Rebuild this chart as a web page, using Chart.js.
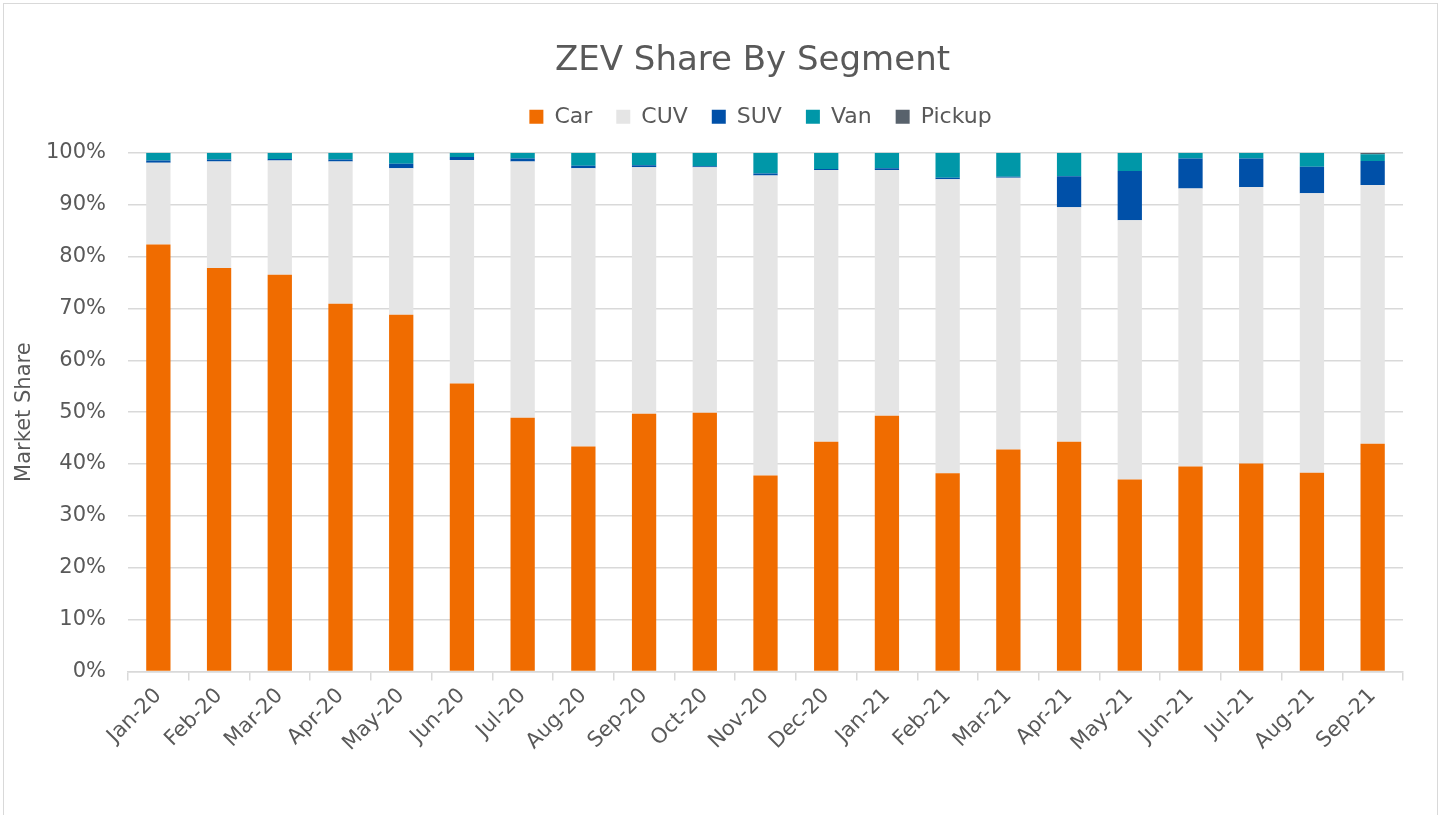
<!DOCTYPE html>
<html lang="en">
<head>
<meta charset="UTF-8">
<title>ZEV Share By Segment</title>
<script src="https://cdn.jsdelivr.net/npm/chart.js"></script>
<style>
    html, body { margin: 0; padding: 0; background: #fff; }
    #marco { position: absolute; left: 3px; top: 3px; width: 1433px; height: 830px; border: 1px solid #d9d9d9; }
    #contenedor { position: absolute; left: 0; top: 0; width: 1445px; height: 815px; }
</style>
</head>
<body>
<div id="marco"></div>
<div id="contenedor"><canvas id="grafica"></canvas></div>
<script>
    const meses = ["Jan-20", "Feb-20", "Mar-20", "Apr-20", "May-20", "Jun-20", "Jul-20", "Aug-20", "Sep-20", "Oct-20",
        "Nov-20", "Dec-20", "Jan-21", "Feb-21", "Mar-21", "Apr-21", "May-21", "Jun-21", "Jul-21", "Aug-21", "Sep-21"];

    // porcentajes
    const car = [82.3, 77.8, 76.5, 70.9, 68.8, 55.5, 48.9, 43.4, 49.7, 49.9, 37.8, 44.3, 49.3, 38.2, 42.8, 44.3, 37.0, 39.5, 40.1, 38.3, 43.9];
    const cuv = [15.8, 20.5, 22.0, 27.4, 28.2, 43.1, 49.4, 53.6, 47.5, 47.3, 57.8, 52.4, 47.4, 56.7, 52.4, 45.2, 50.0, 53.6, 53.3, 53.9, 49.9];
    const suv = [0.4, 0.4, 0.3, 0.4, 0.9, 0.6, 0.6, 0.5, 0.4, 0.2, 0.4, 0.2, 0.3, 0.3, 0.2, 6.0, 9.5, 5.8, 5.5, 5.1, 4.6];
    const van = [1.5, 1.3, 1.2, 1.3, 2.1, 0.8, 1.1, 2.5, 2.4, 2.6, 4.0, 3.1, 3.0, 4.8, 4.6, 4.5, 3.5, 1.1, 1.1, 2.7, 1.3];
    const pickup = [0, 0, 0, 0, 0, 0, 0, 0, 0, 0, 0, 0, 0, 0, 0, 0, 0, 0, 0, 0, 0.3];

    const gris = "#595959";
    const fuente = "'DejaVu Sans', sans-serif";

    const serie = (label, data, color) => ({
        label: label,
        data: data,
        backgroundColor: color,
        borderWidth: 0,
        categoryPercentage: 1,
        barPercentage: 0.4
    });

    // más espacio debajo de la leyenda
    const margenLeyenda = {
        id: 'margenLeyenda',
        beforeInit(chart) {
            const fit = chart.legend.fit;
            chart.legend.fit = function () {
                fit.bind(chart.legend)();
                this.height += 15;
            };
        },
        // título y leyenda centrados un poco más a la derecha, como en Excel
        afterLayout(chart) {
            const t = chart.titleBlock;
            t.left += 47; t.right += 47;
            const l = chart.legend;
            l.left += 55; l.right += 55;
        }
    };

    new Chart(document.querySelector("#grafica"), {
        type: 'bar',
        data: {
            labels: meses,
            datasets: [
                serie("Car", car, "#F06C00"),
                serie("CUV", cuv, "#E5E5E5"),
                serie("SUV", suv, "#0050A8"),
                serie("Van", van, "#0097A8"),
                serie("Pickup", pickup, "#58626C")
            ]
        },
        plugins: [margenLeyenda],
        options: {
            responsive: true,
            maintainAspectRatio: false,
            animation: false,
            layout: { padding: { left: 8, right: 42, top: 22, bottom: 56 } },
            plugins: {
                title: {
                    display: true,
                    text: "ZEV Share By Segment",
                    color: gris,
                    font: { family: fuente, size: 34, weight: 'normal' },
                    padding: { top: 19, bottom: 0 }
                },
                legend: {
                    labels: {
                        color: gris,
                        font: { family: fuente, size: 22 },
                        boxWidth: 14,
                        boxHeight: 14,
                        padding: 24
                    }
                },
                tooltip: { enabled: false }
            },
            scales: {
                x: {
                    stacked: true,
                    border: { color: "#d9d9d9", width: 1.5 },
                    grid: { drawOnChartArea: false, offset: true, color: "#d9d9d9", lineWidth: 1.5, tickLength: 9 },
                    ticks: { color: gris, font: { family: fuente, size: 21 }, maxRotation: 45, minRotation: 45 }
                },
                y: {
                    stacked: true,
                    min: 0,
                    max: 100,
                    afterFit: scale => { scale.width = 120; },
                    border: { display: false },
                    grid: { color: "#d9d9d9", lineWidth: 1.5, drawTicks: false },
                    ticks: {
                        stepSize: 10,
                        padding: 22,
                        color: gris,
                        font: { family: fuente, size: 21 },
                        callback: v => v + "%"
                    },
                    title: {
                        display: true,
                        text: "Market Share",
                        color: gris,
                        font: { family: fuente, size: 21 },
                        padding: { top: 4, bottom: 4 }
                    }
                }
            }
        }
    });
</script>
</body>
</html>
